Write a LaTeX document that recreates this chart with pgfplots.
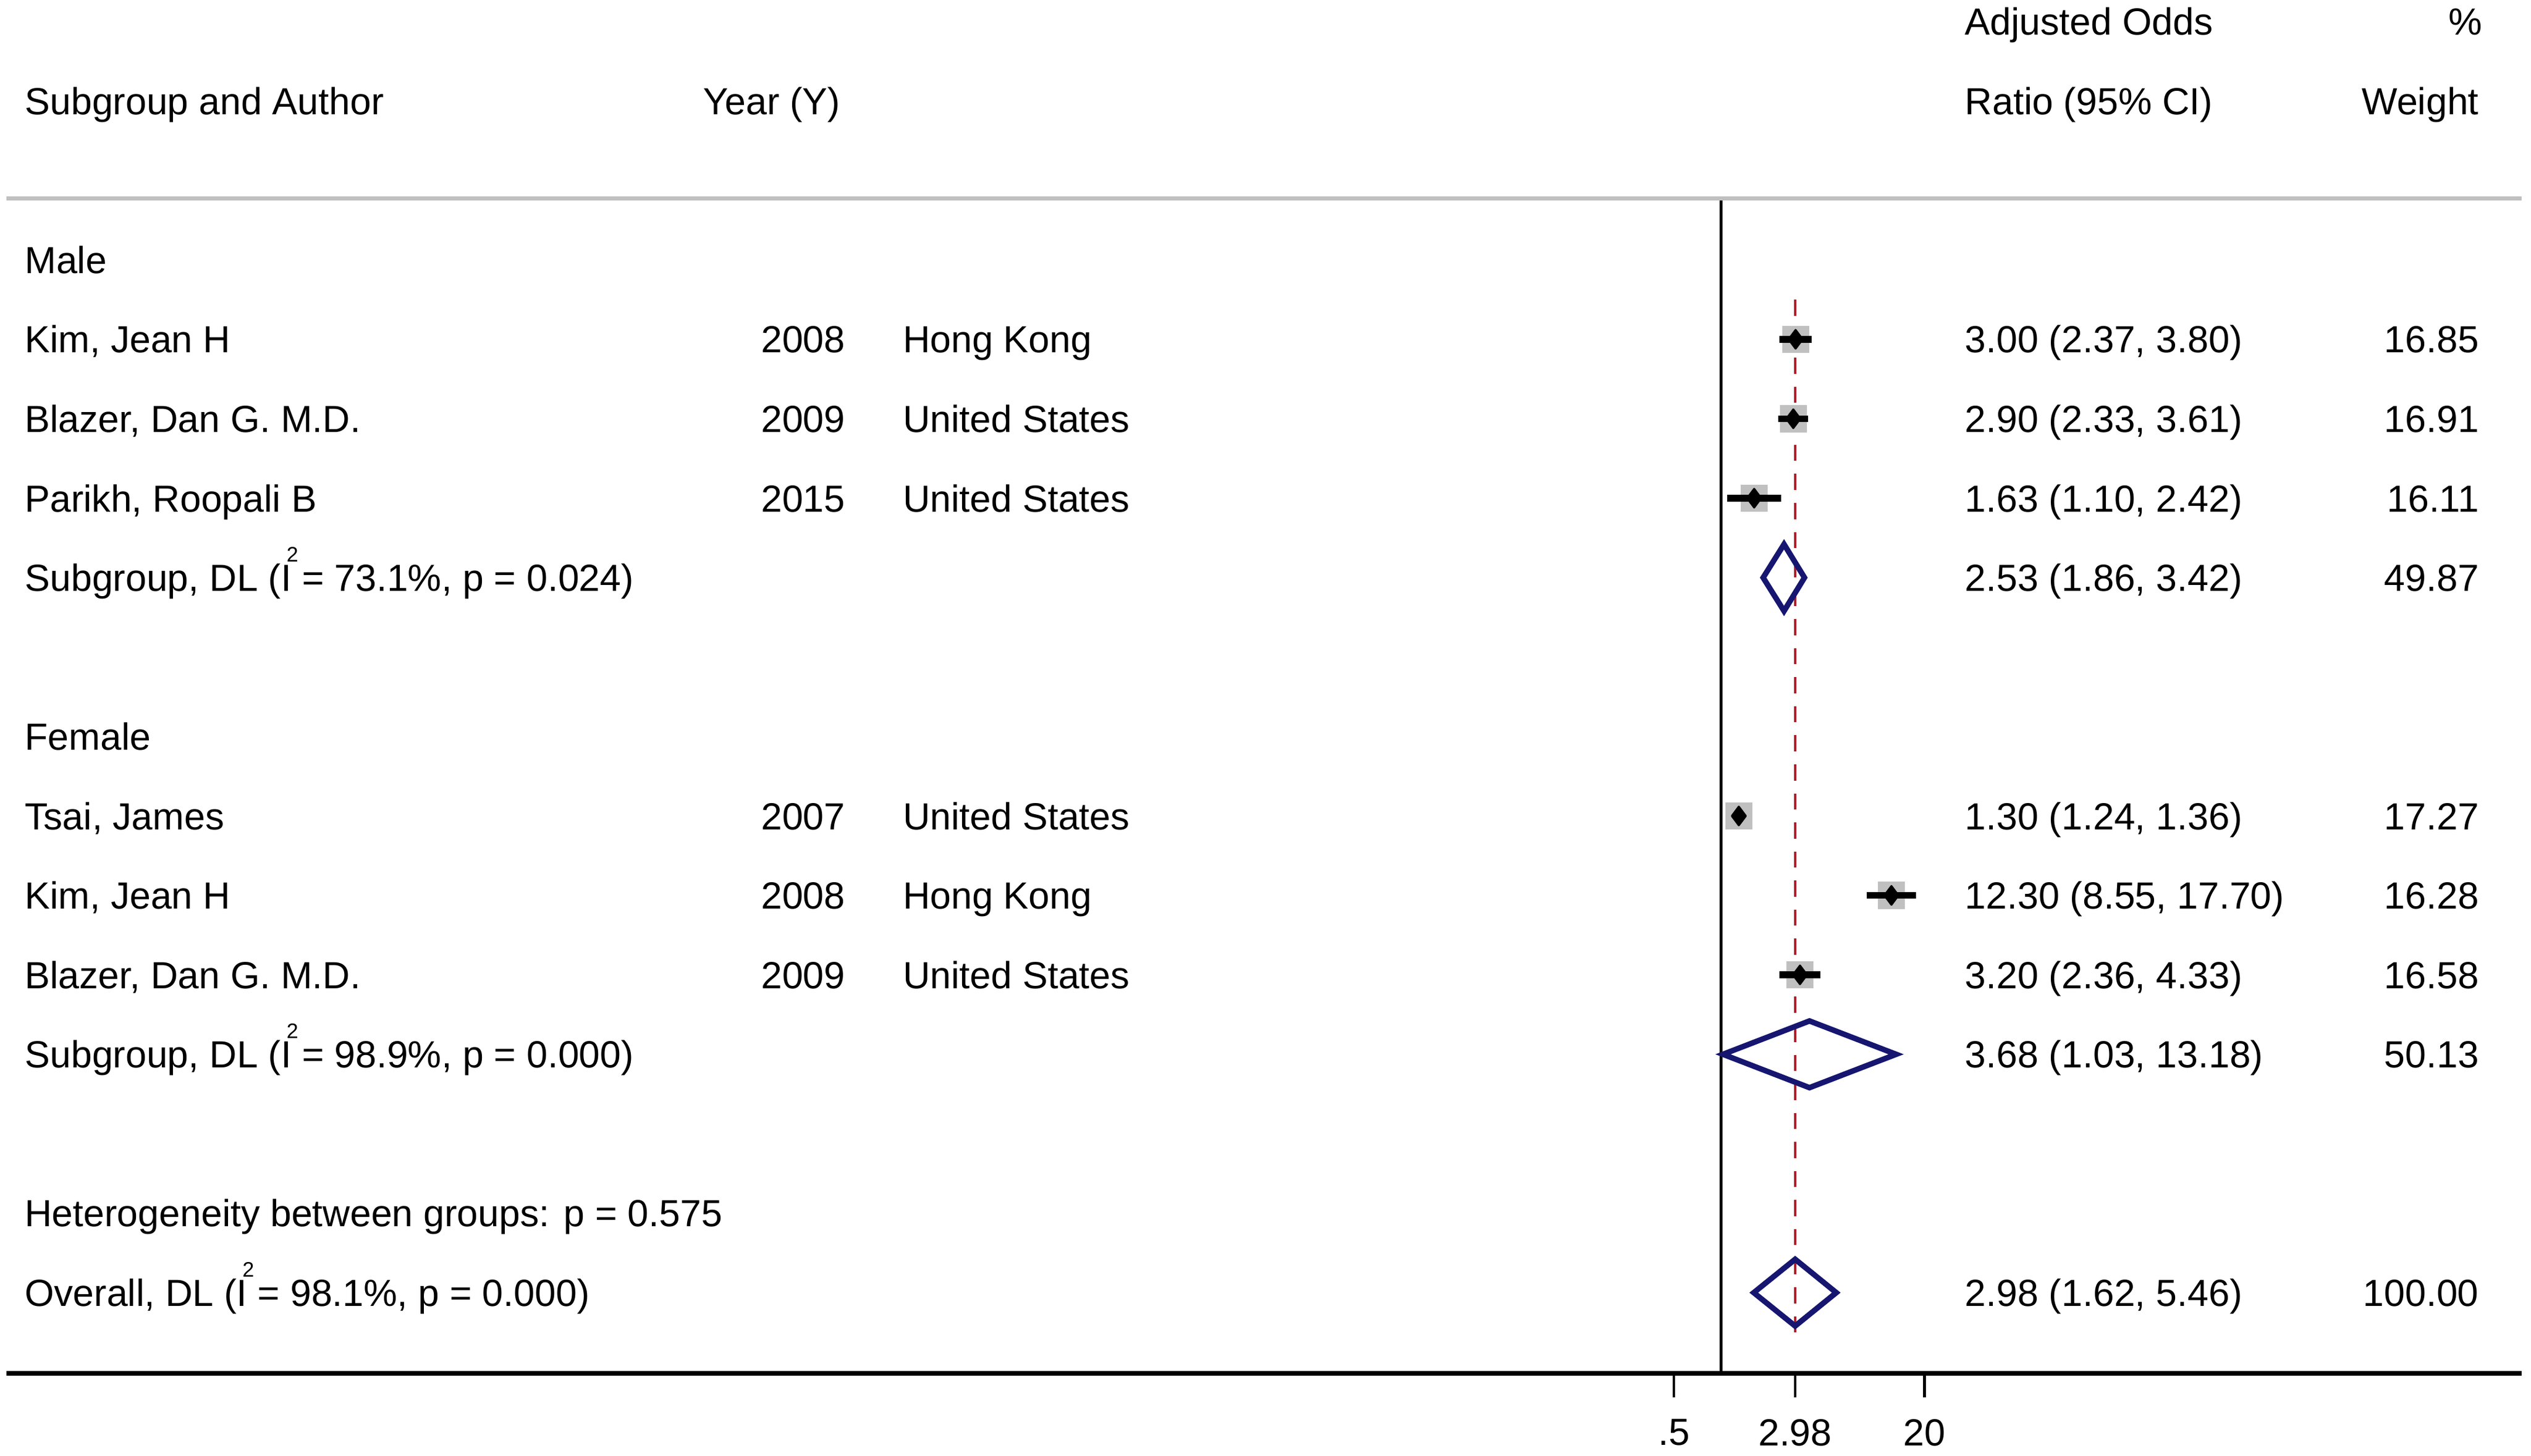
\documentclass[border=0pt]{standalone}
\usepackage{pgfplots}
\pgfplotsset{compat=1.18}
\usepackage{pgfplotstable}
\usepackage{fontspec}
\setmainfont{Liberation Sans}

\definecolor{boxgray}{RGB}{192,192,192}
\definecolor{pooled}{RGB}{22,22,112}
\definecolor{refred}{RGB}{165,35,45}

% studies: row (negative), OR, weight
\pgfplotstableread{
y   or     w
-2  3.00   16.85
-3  2.90   16.91
-4  1.63   16.11
-8  1.30   17.27
-9  12.30  16.28
-10 3.20   16.58
}\studies

% 95% CI ends, one pair per study
\pgfplotstableread{
x     y
2.37  -2
3.80  -2
nan   nan
2.33  -3
3.61  -3
nan   nan
1.10  -4
2.42  -4
nan   nan
1.24  -8
1.36  -8
nan   nan
8.55  -9
17.70 -9
nan   nan
2.36  -10
4.33  -10
}\cis

\newcommand{\fs}{\fontsize{11.7}{14}\selectfont}
% baseline of text row r, in picture px (y down)
\newcommand{\R}[1]{{120.17+49.23*(#1)}}
% I squared, the 2 set above the I as in the original
\newcommand{\Isq}{I\makebox[0pt][r]{\raisebox{0.78em}{\fontsize{6.5}{7}\selectfont 2}\hspace{-0.18em}}}

\begin{document}
\begin{tikzpicture}[x=0.5pt,y=-0.5pt,
  lt/.style={anchor=base west,inner sep=0pt,font=\fs},
  rt/.style={anchor=base east,inner sep=0pt,font=\fs}]

\begin{axis}[
  set layers,
  at={(2pt,-425.5pt)}, anchor=south west,
  scale only axis, width=779pt, height=364pt,
  xmode=log, xmin=1.087e-11, xmax=1.312e5,
  ymin=-15.016, ymax=-0.228,
  axis x line*=bottom, axis y line=none,
  axis line style={line width=1.3pt},
  xtick={0.5,2.98,20}, xticklabels={.5,2.98,20},
  minor xtick={},
  tick align=outside, major tick length=7.5pt,
  xtick style={black,line width=0.8pt},
  xticklabel style={font=\fs, anchor=north, inner sep=0pt, yshift=-6.5pt},
  unbounded coords=jump,
  clip=false,
]
% null line and overall estimate
\draw[black,line width=0.8pt] (axis cs:1,-0.228) -- (axis cs:1,-15.016);
\addplot[on layer=axis background, refred, line width=0.6pt,
  dash pattern=on 5pt off 4pt]
  coordinates {(2.98,-1.5) (2.98,-14.5)};

% weight boxes
\addplot[only marks, mark=square*, mark size=4pt,
  mark options={draw=boxgray, fill=boxgray, rounded corners=0.8pt}]
  table[x=or, y=y] {\studies};

% confidence intervals and point estimates, on top of the boxes
\addplot[on layer=axis foreground, black, line width=2.1pt] table {\cis};
\addplot[on layer=axis foreground, black, only marks, mark=diamond*,
  mark size=2.9pt, mark options={line width=0.6pt, line join=round}]
  table[x=or, y=y] {\studies};

% pooled estimates
\addplot[pooled, line width=1.7pt, line join=miter]
  coordinates {(1.86,-5) (2.53,-4.58) (3.42,-5) (2.53,-5.42)} -- cycle;
\addplot[pooled, line width=1.7pt, line join=miter]
  coordinates {(1.03,-11) (3.68,-10.58) (13.18,-11) (3.68,-11.42)} -- cycle;
\addplot[pooled, line width=1.7pt, line join=miter]
  coordinates {(1.62,-14) (2.98,-13.58) (5.46,-14) (2.98,-14.42)} -- cycle;

\draw[boxgray,line width=1.2pt] (rel axis cs:0,1) -- (rel axis cs:1,1);
\end{axis}

% header
\node[lt] at (1217,\R{-2}) {Adjusted Odds};
\node[rt] at (1538,\R{-2}) {\%};
\node[lt] at (15,\R{-1}) {Subgroup and Author};
\node[rt] at (521,\R{-1}) {Year (Y)};
\node[lt] at (1217,\R{-1}) {Ratio (95\% CI)};
\node[rt] at (1536,\R{-1}) {Weight};

% male
\node[lt] at (15,\R{1}) {Male};
\node[lt] at (15,\R{2}) {Kim, Jean H};
\node[rt] at (524,\R{2}) {2008};
\node[lt] at (559,\R{2}) {Hong Kong};
\node[lt] at (1217,\R{2}) {3.00 (2.37, 3.80)};
\node[rt] at (1536,\R{2}) {16.85};
\node[lt] at (15,\R{3}) {Blazer, Dan G. M.D.};
\node[rt] at (524,\R{3}) {2009};
\node[lt] at (559,\R{3}) {United States};
\node[lt] at (1217,\R{3}) {2.90 (2.33, 3.61)};
\node[rt] at (1536,\R{3}) {16.91};
\node[lt] at (15,\R{4}) {Parikh, Roopali B};
\node[rt] at (524,\R{4}) {2015};
\node[lt] at (559,\R{4}) {United States};
\node[lt] at (1217,\R{4}) {1.63 (1.10, 2.42)};
\node[rt] at (1536,\R{4}) {16.11};
\node[lt] at (15,\R{5}) {Subgroup, DL (\Isq{} = 73.1\%, p = 0.024)};
\node[lt] at (1217,\R{5}) {2.53 (1.86, 3.42)};
\node[rt] at (1536,\R{5}) {49.87};

% female
\node[lt] at (15,\R{7}) {Female};
\node[lt] at (15,\R{8}) {Tsai, James};
\node[rt] at (524,\R{8}) {2007};
\node[lt] at (559,\R{8}) {United States};
\node[lt] at (1217,\R{8}) {1.30 (1.24, 1.36)};
\node[rt] at (1536,\R{8}) {17.27};
\node[lt] at (15,\R{9}) {Kim, Jean H};
\node[rt] at (524,\R{9}) {2008};
\node[lt] at (559,\R{9}) {Hong Kong};
\node[lt] at (1217,\R{9}) {12.30 (8.55, 17.70)};
\node[rt] at (1536,\R{9}) {16.28};
\node[lt] at (15,\R{10}) {Blazer, Dan G. M.D.};
\node[rt] at (524,\R{10}) {2009};
\node[lt] at (559,\R{10}) {United States};
\node[lt] at (1217,\R{10}) {3.20 (2.36, 4.33)};
\node[rt] at (1536,\R{10}) {16.58};
\node[lt] at (15,\R{11}) {Subgroup, DL (\Isq{} = 98.9\%, p = 0.000)};
\node[lt] at (1217,\R{11}) {3.68 (1.03, 13.18)};
\node[rt] at (1536,\R{11}) {50.13};

% overall
\node[lt] at (15,\R{13}) {Heterogeneity between groups: p = 0.575};
\node[lt] at (15,\R{14}) {Overall, DL (\Isq{} = 98.1\%, p = 0.000)};
\node[lt] at (1217,\R{14}) {2.98 (1.62, 5.46)};
\node[rt] at (1536,\R{14}) {100.00};

\pgfresetboundingbox
\path[use as bounding box] (0,0) rectangle (1568,902);
\end{tikzpicture}
\end{document}
